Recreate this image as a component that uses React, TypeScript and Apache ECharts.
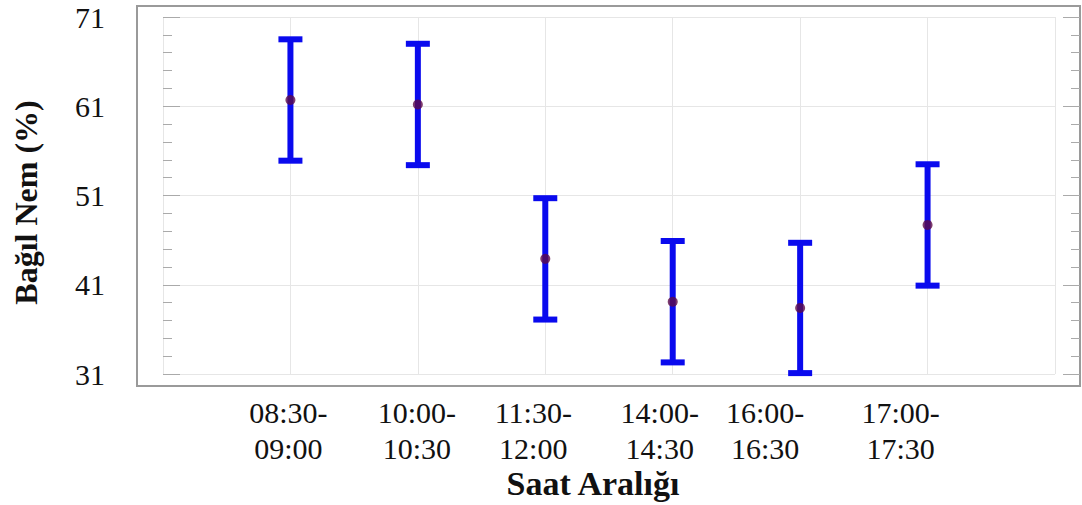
import React, { useEffect, useRef } from "react";
import * as echarts from "echarts";

const categories = ["08:30-\n09:00", "10:00-\n10:30", "11:30-\n12:00", "14:00-\n14:30", "16:00-\n16:30", "17:00-\n17:30"];
const means = [61.7, 61.2, 43.9, 39.1, 38.4, 47.7];
const errors = [6.8, 6.8, 6.8, 6.8, 7.3, 6.8];
const yTicks = { min: 31, max: 71, interval: 10 };
const xTitle = "Saat Aralığı";
const yTitle = "Bağıl Nem (%)";

// label visual offsets (style only)
const labelShift = [-2, -1, -12, -13, -35, -27];

const FONT = "'Liberation Serif', 'Times New Roman', serif";

export default function App() {
  const ref = useRef<HTMLDivElement>(null);
  useEffect(() => {
    if (!ref.current) return;
    const chart = echarts.init(ref.current, undefined, { renderer: "svg" });
    const rich: Record<string, any> = {};
    labelShift.forEach((s, i) => {
      rich["l" + i] = {
        fontFamily: FONT,
        fontSize: 30,
        lineHeight: 36,
        color: "#111",
        padding: s < 0 ? [0, -2 * s, 0, 0] : [0, 0, 0, 2 * s],
      };
    });
    const pts = means.map((m, i) => [i + 1, m, errors[i]]);
    chart.setOption({
      animation: false,
      backgroundColor: "#fff",
      grid: { left: 163, right: 27, top: 17, bottom: 131, containLabel: false },
      graphic: [
        {
          type: "rect",
          shape: { x: 137, y: 6, width: 943, height: 380 },
          style: { fill: "none", stroke: "#9a9a9a", lineWidth: 2 },
          silent: true,
          z: 0,
        },
      ],
      xAxis: [
        {
          type: "value",
          min: 0,
          max: 7,
          interval: 1,
          offset: 12,
          axisLine: { show: false },
          axisTick: { show: false },
          splitLine: { show: true, lineStyle: { color: "#e6e6e6", width: 1 } },
          axisLabel: {
            margin: 8,
            rich,
            formatter: (v: number) => {
              const i = Math.round(v) - 1;
              if (i < 0 || i >= categories.length) return "";
              return categories[i]
                .split("\n")
                .map((t) => `{l${i}|${t}}`)
                .join("\n");
            },
          },
          name: xTitle,
          nameLocation: "middle",
          nameGap: 80,
          nameMoveOverlap: false,
          nameTextStyle: {
            fontFamily: FONT,
            fontSize: 34,
            fontWeight: "bold",
            color: "#111",
            padding: [0, 32, 0, 0],
          },
        },
      ],
      yAxis: [
        {
          type: "value",
          min: yTicks.min,
          max: yTicks.max,
          interval: yTicks.interval,
          position: "left",
          offset: 26,
          axisLine: { show: false },
          axisTick: { show: true, inside: true, length: 17, lineStyle: { color: "#aaa" } },
          minorTick: { show: true, splitNumber: 5, length: 9, lineStyle: { color: "#aaa" } },
          splitLine: { show: true, lineStyle: { color: "#e6e6e6", width: 1 } },
          axisLabel: {
            margin: 32,
            fontFamily: FONT,
            fontSize: 30,
            color: "#111",
            padding: [8, 0, 0, 0],
          },
          name: yTitle,
          nameLocation: "middle",
          nameGap: 95,
          nameRotate: 90,
          nameMoveOverlap: false,
          nameTextStyle: {
            fontFamily: FONT,
            fontSize: 32,
            fontWeight: "bold",
            color: "#111",
            padding: [0, 14, 0, 0],
          },
        },
        {
          type: "value",
          min: yTicks.min,
          max: yTicks.max,
          interval: yTicks.interval,
          position: "right",
          offset: 25,
          axisLine: { show: false },
          axisTick: { show: true, inside: true, length: 17, lineStyle: { color: "#aaa" } },
          minorTick: { show: true, splitNumber: 5, length: 9, lineStyle: { color: "#aaa" } },
          splitLine: { show: false },
          axisLabel: { show: false },
        },
      ],
      series: [
        {
          type: "custom",
          data: pts,
          z: 2,
          renderItem: (params: any, api: any) => {
            const x = api.value(0);
            const m = api.value(1);
            const e = api.value(2);
            const top = api.coord([x, m + e]);
            const bot = api.coord([x, m - e]);
            const hw = 12;
            const style = { stroke: "#0a0aee", lineWidth: 6, fill: "none" };
            return {
              type: "group",
              children: [
                { type: "line", shape: { x1: top[0], y1: top[1], x2: bot[0], y2: bot[1] }, style },
                { type: "line", shape: { x1: top[0] - hw, y1: top[1], x2: top[0] + hw, y2: top[1] }, style },
                { type: "line", shape: { x1: bot[0] - hw, y1: bot[1], x2: bot[0] + hw, y2: bot[1] }, style },
              ],
            };
          },
        },
        {
          type: "scatter",
          data: means.map((m, i) => [i + 1, m]),
          symbol: "circle",
          symbolSize: 10,
          itemStyle: { color: "#5c0b48" },
          z: 3,
        },
      ],
    });
    return () => chart.dispose();
  }, []);
  return <div ref={ref} style={{ position: "fixed", left: 0, top: 0, width: 1082, height: 505 }} />;
}
